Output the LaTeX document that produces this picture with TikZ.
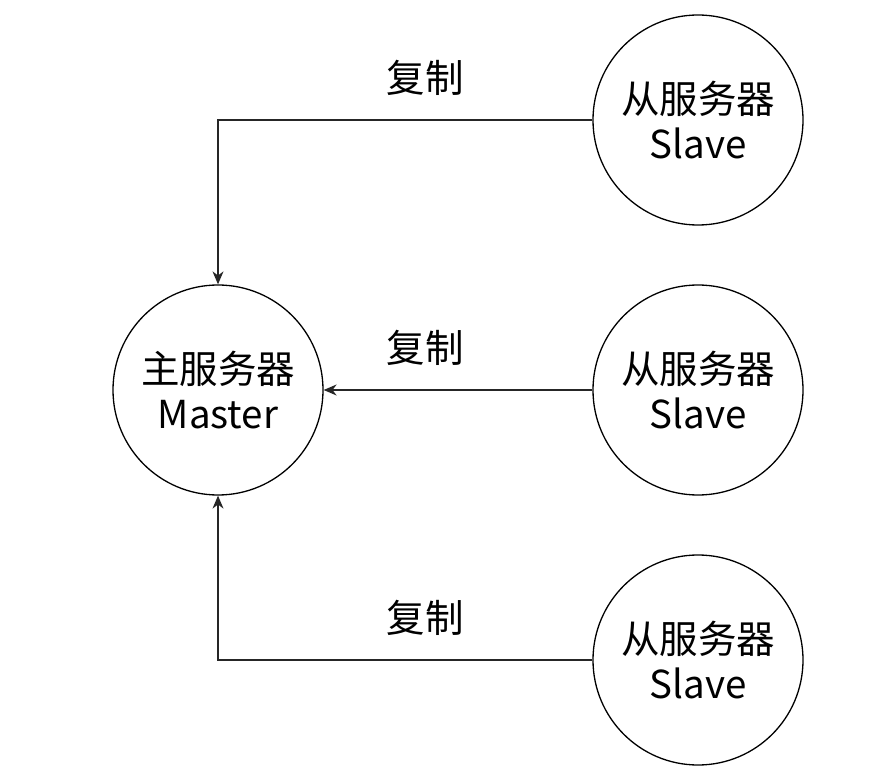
\documentclass[tikz,border=0pt]{standalone}
\usepackage{fontspec}
\setmainfont{Noto Sans CJK SC}
\usetikzlibrary{arrows.meta}
\begin{document}
\begin{tikzpicture}[x=1pt,y=-1pt,
  srv/.style={circle,draw=black,line width=1.3pt,minimum size=210pt,inner sep=0pt,align=center,font=\fontsize{38.5}{45}\selectfont},
  conn/.style={draw=black!85,line width=1.3pt,-{Stealth[length=13pt,width=11pt]}},
  lbl/.style={font=\fontsize{38.5}{45}\selectfont,inner sep=0pt}]
\useasboundingbox[fill=white] (0,0) rectangle (878,783);
\node[srv] (m) at (218,390) {主服务器\\Master};
\node[srv] (s1) at (698,120) {从服务器\\Slave};
\node[srv] (s2) at (698,390) {从服务器\\Slave};
\node[srv] (s3) at (698,660) {从服务器\\Slave};
\coordinate (c1) at (218,120);
\coordinate (c3) at (218,660);
\draw[conn] (s1.west) -- (c1) -- (m.north);
\draw[conn] (s2.west) -- (m.east);
\draw[conn] (s3.west) -- (c3) -- (m.south);
\node[lbl] (l1) at (425,78) {复制};
\node[lbl] (l2) at (425,348) {复制};
\node[lbl] (l3) at (425,618) {复制};
\end{tikzpicture}
\end{document}
